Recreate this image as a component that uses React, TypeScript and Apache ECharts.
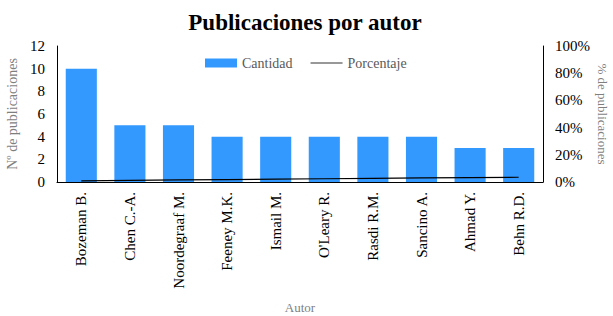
import React, { useEffect, useRef } from "react";
import * as echarts from "echarts";

const authors = ["Bozeman B.", "Chen C.-A.", "Noordegraaf M.", "Feeney M.K.", "Ismail M.", "O'Leary R.", "Rasdi R.M.", "Sancino A.", "Ahmad Y.", "Behn R.D."];
const cantidad = [10, 5, 5, 4, 4, 4, 4, 4, 3, 3];
const porcentaje = [0.8, 1.2, 1.5, 1.8, 2.1, 2.4, 2.7, 3.0, 3.2, 3.5];
const leftTicks = [0, 2, 4, 6, 8, 10, 12];
const rightTicks = [0, 20, 40, 60, 80, 100];

const FONT = "'Liberation Serif', 'Times New Roman', serif";

export default function App() {
  const ref = useRef<HTMLDivElement>(null);
  useEffect(() => {
    const chart = echarts.init(ref.current!, null, { renderer: "svg" });
    chart.setOption({
      animation: false,
      textStyle: { fontFamily: FONT },
      title: {
        text: "Publicaciones por autor",
        left: 300,
        textAlign: "center",
        top: 6,
        textStyle: { fontFamily: FONT, fontSize: 23, fontWeight: "bold", color: "#000" },
      },
      legend: {
        top: 51,
        left: 200,
        itemGap: 18,
        itemWidth: 32,
        itemHeight: 9,
        textStyle: { fontFamily: FONT, fontSize: 14, color: "#595959" },
        data: [
          { name: "Cantidad", icon: "rect" },
          { name: "Porcentaje", icon: "path://M0,0 L30,0 L30,1 L0,1 Z" },
        ],
      },
      grid: { left: 57, right: 70, top: 46, bottom: 134, containLabel: false, outerBoundsMode: "none" },
      xAxis: {
        type: "category",
        data: authors,
        name: "Autor",
        nameLocation: "middle",
        nameGap: 119,
        nameMoveOverlap: false,
        nameTextStyle: { fontFamily: FONT, fontSize: 13, color: "#7f7f7f" },
        axisLine: { lineStyle: { color: "#000", width: 1 } },
        axisTick: { show: false },
        axisLabel: { rotate: 90, fontFamily: FONT, fontSize: 15, color: "#000", margin: 10 },
      },
      yAxis: [
        {
          type: "value",
          min: 0,
          max: 12,
          interval: 2,
          name: "Nº de publicaciones",
          nameLocation: "middle",
          nameGap: 38,
          nameMoveOverlap: false,
          nameTextStyle: { fontFamily: FONT, fontSize: 14, color: "#7f7f7f" },
          axisLine: { show: true, lineStyle: { color: "#000" } },
          axisTick: { show: false },
          splitLine: { show: false },
          axisLabel: { fontFamily: FONT, fontSize: 15, color: "#000", margin: 12, formatter: (v: number) => (leftTicks.includes(v) ? String(v) : "") },
        },
        {
          type: "value",
          min: 0,
          max: 100,
          interval: 20,
          name: "% de publicaciones",
          nameLocation: "middle",
          nameGap: 53,
          nameMoveOverlap: false,
          nameRotate: -90,
          nameTextStyle: { fontFamily: FONT, fontSize: 13, color: "#7f7f7f" },
          axisLine: { show: true, lineStyle: { color: "#000" } },
          axisTick: { show: false },
          splitLine: { show: false },
          axisLabel: { fontFamily: FONT, fontSize: 15, color: "#000", margin: 12, formatter: (v: number) => (rightTicks.includes(v) ? v + "%" : "") },
        },
      ],
      series: [
        {
          name: "Cantidad",
          type: "bar",
          data: cantidad,
          barWidth: "64%",
          itemStyle: { color: "#3399ff" },
        },
        {
          name: "Porcentaje",
          type: "line",
          yAxisIndex: 1,
          data: porcentaje,
          symbol: "none",
          lineStyle: { color: "#000", width: 1.2 },
          itemStyle: { color: "#333" },
        },
      ],
    });
    return () => chart.dispose();
  }, []);
  return <div ref={ref} style={{ width: 613, height: 316, position: "absolute", left: 0, top: 0, background: "#fff" }} />;
}
